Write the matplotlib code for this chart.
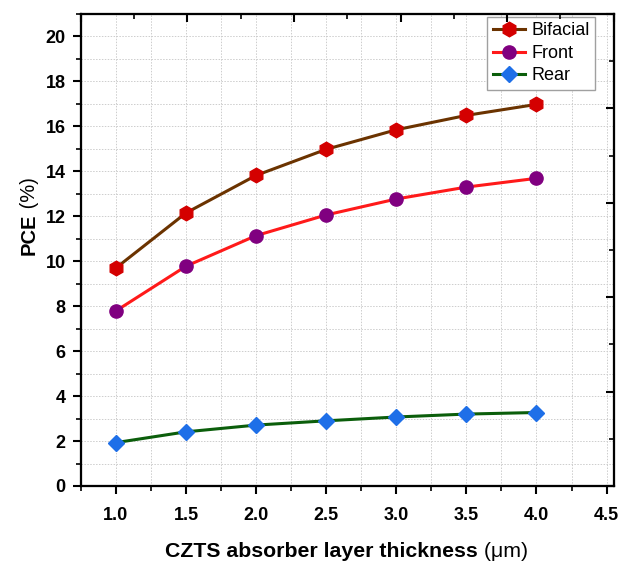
import numpy as np
import matplotlib.pyplot as plt
from matplotlib.ticker import MultipleLocator, NullFormatter

plt.rcParams['font.family'] = ['Liberation Sans', 'DejaVu Sans']

# CZTS absorber thickness (um) and PCE (%)
thickness = [1.0, 1.5, 2.0, 2.5, 3.0, 3.5, 4.0]
pce_bifacial = [9.70, 12.15, 13.82, 14.98, 15.85, 16.49, 16.98]
pce_front = [7.79, 9.78, 11.14, 12.06, 12.77, 13.30, 13.69]
pce_rear = [1.93, 2.41, 2.71, 2.90, 3.07, 3.20, 3.27]

fig = plt.figure(figsize=(6.22, 5.61), dpi=100)
ax = fig.add_axes([0.130, 0.1337, 0.8565, 0.8413])

ax.plot(thickness, pce_bifacial, color="#6B3300", lw=2.2, marker="h", ms=10.5,
        mfc="#D40000", mec="#D40000", label="Bifacial", zorder=4)
ax.plot(thickness, pce_front, color="#FF1A1A", lw=2.2, marker="o", ms=9.5,
        mfc="#800080", mec="#800080", label="Front", zorder=4)
ax.plot(thickness, pce_rear, color="#0B5E0B", lw=2.2, marker="D", ms=8.5,
        mfc="#1E6FE8", mec="#1E6FE8", label="Rear", zorder=4)

ax.set_xlim(0.75, 4.55)
ax.set_ylim(0, 21)
ax.xaxis.set_major_locator(MultipleLocator(0.5))
ax.xaxis.set_minor_locator(MultipleLocator(0.25))
ax.yaxis.set_major_locator(MultipleLocator(2))
ax.yaxis.set_minor_locator(MultipleLocator(1))
ax.set_xticks([1.0, 1.5, 2.0, 2.5, 3.0, 3.5, 4.0, 4.5])

# grid on every major + minor step
ax.grid(True, which="both", color="#CDCDCD", linestyle=(0, (1.5, 1.5)), lw=0.7)
ax.set_axisbelow(True)

ax.tick_params(which="major", direction="out", length=6, width=1.5,
               labelsize=13, pad=5)
ax.tick_params(which="minor", direction="out", length=3.5, width=1.2)
ax.tick_params(axis="x", which="major", pad=9)
for lab in ax.get_xticklabels() + ax.get_yticklabels():
    lab.set_fontweight("bold")

for sp in ax.spines.values():
    sp.set_linewidth(1.5)

# top / right axes carry their own (unlabelled) inward ticks
top = ax.twiny()
top.set_xlim(0, 5)
top.xaxis.set_major_locator(MultipleLocator(1))
top.xaxis.set_minor_locator(MultipleLocator(0.5))
top.xaxis.set_major_formatter(NullFormatter())
top.tick_params(which="major", direction="in", length=6, width=1.5)
top.tick_params(which="minor", direction="in", length=3.5, width=1.2)

right = ax.twinx()
right.set_ylim(0, 5)
right.yaxis.set_major_locator(MultipleLocator(1))
right.yaxis.set_minor_locator(MultipleLocator(0.5))
right.yaxis.set_major_formatter(NullFormatter())
right.tick_params(which="major", direction="in", length=6, width=1.5)
right.tick_params(which="minor", direction="in", length=3.5, width=1.2)
for a in (top, right):
    for sp in a.spines.values():
        sp.set_linewidth(1.5)

leg = ax.legend(loc="upper right", bbox_to_anchor=(0.966, 0.9936),
                borderaxespad=0, fontsize=13, fancybox=False, framealpha=1,
                edgecolor="#A0A0A0", handlelength=1.8, handletextpad=0.35,
                labelspacing=0.3, borderpad=0.3)
leg.get_frame().set_linewidth(1.0)
leg.set_zorder(10)

# axis labels: bold words, regular units
xl = fig.text(165 / 622, 1 - 557 / 561, "CZTS absorber layer thickness",
              fontsize=15.3, fontweight="bold", ha="left", va="baseline")
ax.annotate(" (\u03bcm)", xy=(1, 1 - 557 / 561), xycoords=(xl, "figure fraction"),
            fontsize=15.3, ha="left", va="baseline", annotation_clip=False)

yl = fig.text(35 / 622, 1 - 255 / 561, "PCE", fontsize=14.5, fontweight="bold",
              rotation=90, rotation_mode="anchor", ha="left", va="baseline")
ax.annotate(" (%)", xy=(35 / 622, 1), xycoords=("figure fraction", yl),
            fontsize=14.5, rotation=90, rotation_mode="anchor",
            ha="left", va="baseline", annotation_clip=False)

fig.savefig("out.png", dpi=100)
